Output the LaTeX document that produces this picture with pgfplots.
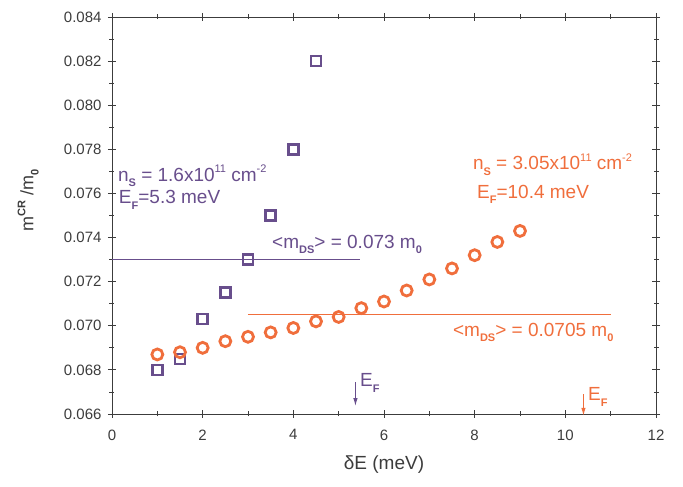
\documentclass[border=0pt]{standalone}
\usepackage{fontspec}
\setmainfont{Liberation Sans}
\usepackage{pgfplots}
\usetikzlibrary{arrows.meta}
\pgfplotsset{compat=1.18}
\definecolor{cpur}{RGB}{104,78,140}
\definecolor{corg}{RGB}{240,110,60}
\definecolor{cax}{RGB}{60,60,60}
\newcommand{\sub}[1]{\raisebox{-0.55ex}{\fontsize{11}{11}\selectfont\bfseries #1}}
\newcommand{\sps}[1]{\raisebox{0.85ex}{\fontsize{11}{11}\selectfont #1}}
\begin{document}
\begin{tikzpicture}[x=1pt,y=1pt]
\useasboundingbox (-112,-73) rectangle (571,414);
\begin{axis}[
  at={(0,0)}, anchor=south west,
  scale only axis, width=544pt, height=397pt,
  xmin=0, xmax=12, ymin=0.066, ymax=0.084,
  xtick={0,2,...,12}, minor x tick num=1,
  ytick={0.066,0.068,...,0.0841}, minor y tick num=1,
  tick align=center,
  major tick length=8pt, minor tick length=5pt,
  every tick/.style={cax, line width=0.8pt},
  axis line style={cax, line width=0.9pt},
  /pgf/number format/assume math mode=true,
  yticklabel style={/pgf/number format/.cd, fixed, fixed zerofill, precision=3, /tikz/.cd, font=\fontsize{15}{18}\selectfont, text=cax, xshift=-3pt},
  xticklabel style={font=\fontsize{15}{18}\selectfont, text=cax, yshift=-8pt},
  scaled y ticks=false,
  xlabel={δE (meV)},
  every axis x label/.style={at={(axis description cs:0.5,-0.128)}, anchor=center, font=\fontsize{19}{22}\selectfont, text=cax},
  ylabel={m\sps{\bfseries CR} /m\sub{0}},
  every axis y label/.style={at={(axis description cs:-0.154,0.537)}, rotate=90, anchor=center, font=\fontsize{18}{21}\selectfont, text=cax},
  clip=false,
]
\addplot[cpur, line width=0.9pt] coordinates {(0,0.073) (5.47,0.073)};
\addplot[corg, line width=0.9pt] coordinates {(3,0.0705) (11,0.0705)};
\addplot[only marks, mark=square, mark size=5pt, cpur, mark options={line width=2.4pt}] coordinates {
(1,0.0680) (1.5,0.0685) (2,0.0703) (2.5,0.0715) (3,0.0730) (3.5,0.0750) (4,0.0780) (4.5,0.0820)};
\addplot[only marks, mark=o, mark size=5.5pt, corg, mark options={line width=2.8pt}] coordinates {
(1,0.0687) (1.5,0.0688) (2,0.0690) (2.5,0.0693) (3,0.0695) (3.5,0.0697) (4,0.0699) (4.5,0.0702) (5,0.0704)
(5.5,0.0708) (6,0.0711) (6.5,0.0716) (7,0.0721) (7.5,0.0726) (8,0.0732) (8.5,0.0738) (9,0.0743)};
\draw[cpur, line width=1pt, -{Latex[length=8pt,width=4.5pt]}] (axis cs:5.37,0.06745) -- (axis cs:5.37,0.06636);
\draw[corg, line width=1pt, -{Latex[length=8pt,width=4.5pt]}] (axis cs:10.4,0.06690) -- (axis cs:10.4,0.06592);
\begin{scope}[every node/.style={font=\fontsize{19}{22}\selectfont, inner sep=0pt}]
\node[anchor=west, text=cpur] at (axis cs:0.13,0.0768) {n\sub{S} = 1.6x10\sps{11} cm\sps{-2}};
\node[anchor=west, text=cpur] at (axis cs:0.15,0.0757) {E\sub{F}=5.3 meV};
\node[anchor=west, text=cpur] at (axis cs:3.53,0.07368) {<m\sub{DS}> = 0.073 m\sub{0}};
\node[anchor=west, text=corg] at (axis cs:7.52,0.0697) {<m\sub{DS}> = 0.0705 m\sub{0}};
\node[anchor=west, text=corg] at (axis cs:7.96,0.07732) {n\sub{S} = 3.05x10\sps{11} cm\sps{-2}};
\node[anchor=west, text=corg] at (axis cs:8.05,0.07595) {E\sub{F}=10.4 meV};
\node[anchor=west, text=cpur] at (axis cs:5.47,0.0674) {E\sub{F}};
\node[anchor=west, text=corg] at (axis cs:10.5,0.06677) {E\sub{F}};
\end{scope}
\end{axis}
\end{tikzpicture}
\end{document}
